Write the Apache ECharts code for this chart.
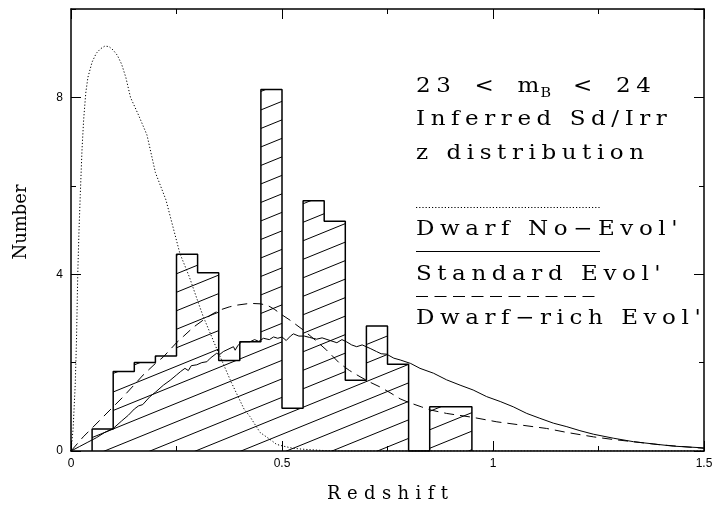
<!DOCTYPE html>
<html><head><meta charset="utf-8">
<script src="https://cdn.jsdelivr.net/npm/echarts@6/dist/echarts.min.js"></script>
<style>html,body{margin:0;padding:0;background:#fff}#c{width:713px;height:505px}</style>
</head><body><div id="c"></div>
<script>
// ---- data ----
const binLeftEdges = [0.05,0.10,0.15,0.20,0.25,0.30,0.35,0.40,0.45,0.50,0.55,0.60,0.65,0.70,0.75,0.80,0.85,0.90];
const binWidth = 0.05;
const binCounts = [0.5,1.8,2.0,2.15,4.45,4.03,2.05,2.47,8.18,0.97,5.66,5.2,1.6,2.83,1.96,0,1.0,1.0];

const dwarfNoEvol = [[0,0],[0.005,0.5],[0.01,1.5],[0.013,2.5],[0.016,4.0],[0.019,5.0],[0.022,5.8],[0.026,6.8],[0.03,7.5],[0.035,8.1],[0.04,8.45],[0.05,8.8],[0.06,9.0],[0.07,9.1],[0.08,9.16],[0.09,9.15],[0.1,9.07],[0.11,8.95],[0.12,8.75],[0.13,8.45],[0.141,8.0],[0.16,7.6],[0.18,7.15],[0.2,6.3],[0.225,5.68],[0.258,4.47],[0.28,3.95],[0.3,3.4],[0.313,3.05],[0.345,2.32],[0.38,1.55],[0.41,0.95],[0.424,0.78],[0.448,0.42],[0.472,0.26],[0.487,0.15],[0.503,0.11],[0.527,0.06],[0.55,0.04],[0.6,0.01],[0.65,0],[1.5,0]];

const standardEvol = [[0,0],[0.02,0.1],[0.04,0.2],[0.06,0.3],[0.08,0.42],[0.1,0.51],[0.12,0.68],[0.136,0.81],[0.15,0.95],[0.16,1.02],[0.17,1.05],[0.187,1.23],[0.2,1.33],[0.219,1.49],[0.235,1.6],[0.25,1.72],[0.26,1.8],[0.27,1.87],[0.278,1.82],[0.285,1.93],[0.298,1.95],[0.31,2.0],[0.322,2.02],[0.33,2.1],[0.345,2.21],[0.352,2.18],[0.361,2.25],[0.372,2.3],[0.385,2.36],[0.389,2.28],[0.395,2.38],[0.404,2.47],[0.412,2.47],[0.424,2.47],[0.435,2.52],[0.445,2.48],[0.456,2.55],[0.47,2.52],[0.48,2.58],[0.49,2.55],[0.5,2.58],[0.51,2.5],[0.52,2.6],[0.527,2.65],[0.54,2.6],[0.553,2.6],[0.565,2.57],[0.582,2.53],[0.595,2.56],[0.614,2.5],[0.63,2.45],[0.642,2.52],[0.653,2.47],[0.665,2.4],[0.677,2.36],[0.69,2.4],[0.709,2.32],[0.724,2.25],[0.735,2.2],[0.748,2.19],[0.765,2.1],[0.78,2.06],[0.805,1.98],[0.827,1.87],[0.859,1.76],[0.89,1.61],[0.922,1.49],[0.953,1.38],[0.985,1.23],[1.017,1.12],[1.048,1.0],[1.08,0.85],[1.111,0.74],[1.143,0.63],[1.175,0.55],[1.206,0.46],[1.238,0.38],[1.285,0.29],[1.333,0.21],[1.38,0.16],[1.427,0.11],[1.5,0.07]];

const dwarfRichEvol = [[0,0],[0.029,0.32],[0.05,0.52],[0.077,0.78],[0.1,1.0],[0.124,1.23],[0.15,1.5],[0.171,1.72],[0.2,1.98],[0.219,2.13],[0.25,2.45],[0.266,2.59],[0.29,2.8],[0.313,2.96],[0.335,3.1],[0.353,3.19],[0.375,3.26],[0.393,3.3],[0.424,3.34],[0.448,3.33],[0.465,3.3],[0.483,3.2],[0.5,3.08],[0.519,2.96],[0.55,2.74],[0.58,2.5],[0.606,2.28],[0.637,1.98],[0.66,1.82],[0.685,1.68],[0.71,1.55],[0.732,1.45],[0.756,1.32],[0.78,1.18],[0.8,1.1],[0.83,1.0],[0.851,0.93],[0.89,0.85],[0.953,0.76],[1.009,0.66],[1.064,0.59],[1.127,0.51],[1.175,0.42],[1.238,0.32],[1.285,0.26],[1.333,0.21],[1.396,0.14],[1.45,0.1],[1.5,0.06]];

const xTickLabels = ['0','0.5','1','1.5'];
const yTickLabels = ['0','4','8'];
const legendNames = ["Dwarf No\u2212Evol'", "Standard Evol'", "Dwarf\u2212rich Evol'"];
const noteLines = ['Inferred Sd/Irr', 'z distribution'];

// ---- helpers ----
function spaced(str, st){ return str.split('').map(ch => '{' + st + '|' + ch + '}').join(''); }
function hatchCanvas(){
  const W = 91, H = 37, cv = document.createElement('canvas');
  cv.width = W; cv.height = H;
  const g = cv.getContext('2d');
  g.strokeStyle = '#000'; g.lineWidth = 1;
  const ph = 12.5;
  for (let k = -2; k <= 4; k++) {
    const y0 = ph + k * 18.5;
    g.beginPath(); g.moveTo(0, y0); g.lineTo(W, y0 - H); g.stroke();
  }
  return cv;
}

// step outline points built from bins
const histPts = [[binLeftEdges[0], 0]];
binCounts.forEach((h, i) => histPts.push([binLeftEdges[i], h]));
histPts.push([binLeftEdges[binLeftEdges.length - 1] + binWidth, 0]);

const serifFont = 'DejaVu Serif';
const tickLabelStyle = {fontFamily: 'Liberation Sans', fontSize: 12, color: '#000'};

function xAxisDef(pos, withLabels){
  return {
    type: 'value', min: 0, max: 1.5, interval: 0.5, position: pos,
    axisLine: {show: true, onZero: false, lineStyle: {color: '#000', width: 1.5}},
    axisTick: {show: true, inside: true, length: 10, lineStyle: {color: '#000', width: 1}},
    minorTick: {show: true, splitNumber: 2, length: 5, lineStyle: {color: '#000', width: 1}},
    splitLine: {show: false}, minorSplitLine: {show: false},
    axisLabel: withLabels ? Object.assign({show: true, margin: 7,
      formatter: v => { const i = Math.round(v / 0.5); return xTickLabels[i] !== undefined ? xTickLabels[i] : ''; }}, tickLabelStyle) : {show: false}
  };
}
function yAxisDef(pos, interval, len, withLine, withLabels){
  return {
    type: 'value', min: 0, max: 10, interval: interval, position: pos,
    axisLine: {show: withLine, onZero: false, lineStyle: {color: '#000', width: 1.5}},
    axisTick: {show: true, inside: true, length: len, lineStyle: {color: '#000', width: 1}},
    splitLine: {show: false},
    axisLabel: withLabels ? Object.assign({show: true, margin: 8, showMaxLabel: false,
      formatter: v => { const i = Math.round(v / 4); return (v % 4 === 0 && yTickLabels[i] !== undefined) ? yTickLabels[i] : ''; }}, tickLabelStyle) : {show: false}
  };
}

const xA0 = xAxisDef('bottom', true);
xA0.name = spaced('Redshift', 'r');
xA0.nameLocation = 'middle';
xA0.nameGap = 34;
xA0.nameTextStyle = {rich: {r: {fontFamily: serifFont, fontSize: 18, color: '#000', padding: [0, 3.2, 0, 3.2]}}};

const yA0 = yAxisDef('left', 4, 10, true, true);
yA0.name = 'Number';
yA0.nameLocation = 'middle';
yA0.nameRotate = 90;
yA0.nameGap = 41;
yA0.nameTextStyle = {fontFamily: serifFont, fontSize: 18, color: '#000', padding: [0, 0, 0, 16]};

const SX = 1.15;
const F20 = '20px "DejaVu Serif"';
const padA = [0, 2.42, 0, 2.42];
const richBase = {a: {font: F20, fill: '#000', padding: padA, lineHeight: 24}};
const line1Rich = {
  a: {font: F20, fill: '#000', padding: padA, lineHeight: 28},
  sp: {font: F20, fill: '#000', padding: [0, 4.7, 0, 4.7], lineHeight: 28},
  m: {font: F20, fill: '#000', padding: [0, 0, 0, 2.42], lineHeight: 28},
  sub: {font: '12.5px "DejaVu Serif"', fill: '#000', padding: [0, 1, 0, 1], lineHeight: 16, verticalAlign: 'bottom'}
};
function line1Text(){
  const tok = ch => ch === ' ' ? '{sp| }' : '{a|' + ch + '}';
  return '23 < '.split('').map(tok).join('') + '{m|m}{sub|B}' + ' < 24'.split('').map(tok).join('');
}
function noteText(str, y){
  return {type: 'text', x: 413.2, y: y, scaleX: SX, z: 10, style: {text: spaced(str, 'a'), rich: richBase, font: F20, fill: '#000', align: 'left', verticalAlign: 'middle'}};
}

const chart = echarts.init(document.getElementById('c'), null, {renderer: 'canvas'});
chart.setOption({
  animation: false,
  backgroundColor: '#fff',
  grid: {left: 71, right: 9, top: 9, bottom: 54, containLabel: false, outerBoundsMode: 'none'},
  xAxis: [xA0, xAxisDef('top', false)],
  yAxis: [yA0, yAxisDef('left', 2, 5, false, false), yAxisDef('right', 4, 10, true, false), yAxisDef('right', 2, 5, false, false)],
  series: [
    {type: 'line', name: 'histogram', data: histPts, step: 'end', symbol: 'none', z: 2,
     lineStyle: {color: '#000', width: 1.5},
     areaStyle: {color: {image: hatchCanvas(), repeat: 'repeat'}, opacity: 1, origin: 'start'}},
    {type: 'line', name: legendNames[0], data: dwarfNoEvol, symbol: 'none', z: 4,
     lineStyle: {color: '#000', width: 1, type: [1.2, 2]}},
    {type: 'line', name: legendNames[1], data: standardEvol, symbol: 'none', z: 4,
     lineStyle: {color: '#000', width: 1}},
    {type: 'line', name: legendNames[2], data: dwarfRichEvol, symbol: 'none', z: 4,
     lineStyle: {color: '#000', width: 1, type: [10, 6]}}
  ],
  graphic: [
    {type: 'text', x: 413.2, y: 86.4, scaleX: SX, z: 10, style: {text: line1Text(), rich: line1Rich, font: F20, fill: '#000', align: 'left', verticalAlign: 'middle'}},
    noteText(noteLines[0], 120.1),
    noteText(noteLines[1], 153.6),
    {type: 'line', z: 10, shape: {x1: 416, y1: 207.5, x2: 600, y2: 207.5}, style: {stroke: '#000', lineWidth: 1, lineDash: [1.2, 2]}},
    noteText(legendNames[0], 229.8),
    {type: 'line', z: 10, shape: {x1: 416, y1: 251.5, x2: 600, y2: 251.5}, style: {stroke: '#000', lineWidth: 1}},
    noteText(legendNames[1], 274.8),
    {type: 'line', z: 10, shape: {x1: 416, y1: 296.5, x2: 600, y2: 296.5}, style: {stroke: '#000', lineWidth: 1, lineDash: [12, 6.5]}},
    noteText(legendNames[2], 319.1)
  ]
});
</script>
</body></html>
